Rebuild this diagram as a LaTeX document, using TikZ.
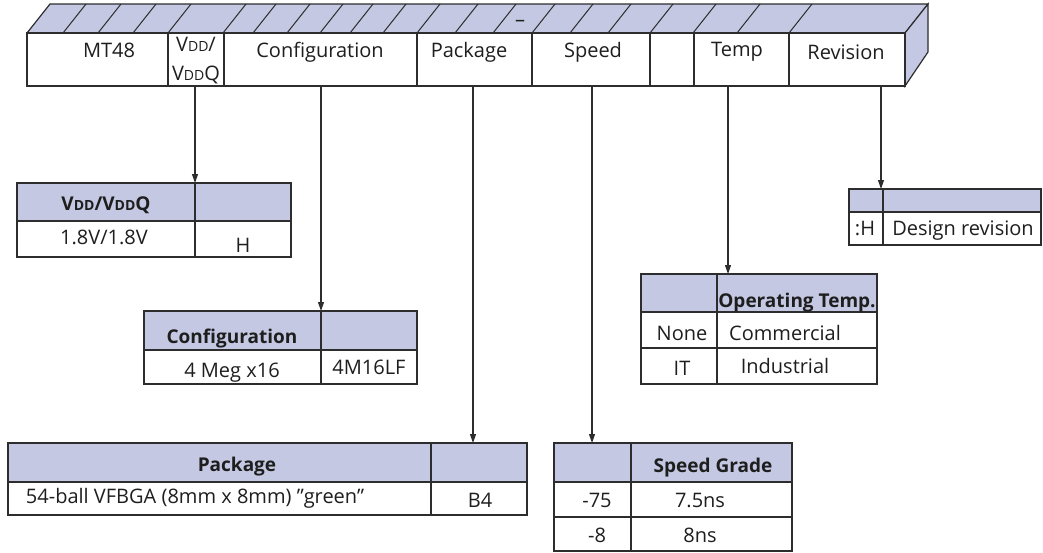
\documentclass[tikz,border=0pt]{standalone}
\usepackage{fontspec}
\setmainfont{Open Sans}
\usetikzlibrary{arrows.meta}
\definecolor{lav}{RGB}{196,200,226}
\definecolor{ln}{RGB}{45,45,45}
\definecolor{tx}{RGB}{30,30,30}
\newcommand{\sm}[1]{{\fontsize{14}{14}\selectfont #1}}
\begin{document}
\begin{tikzpicture}[x=1pt,y=-1pt,
  lbl/.style={font=\fontsize{20}{22}\selectfont, text=tx, inner sep=0pt, anchor=base},
  hdr/.style={font=\fontsize{19}{21}\selectfont\bfseries, text=tx, inner sep=0pt, anchor=base},
  edge/.style={draw=ln, line width=1.2pt},
  hatch/.style={draw=ln, line width=1pt},
  arr/.style={draw=ln, line width=1.1pt, -{Triangle[length=9pt,width=6pt]}},
  hfill/.style={fill=lav}
]
\useasboundingbox (0,0) rectangle (1043,552);
% ---- top bar ----
\fill[lav] (27,33) -- (50,4) -- (928,4) -- (905,33) -- cycle;
\foreach \b in {63,98,133,168,223,253,287,320,350,383,417,455,493,532,570,608,650,693,737,789}
  \draw[hatch] (\b,33) -- (\b+23,4);
\draw[edge,line join=miter] (27,33) -- (50,4) -- (928,4) -- (905,33) -- cycle;
\draw[edge,fill=lav,line join=miter] (905,33) -- (928,4) -- (928,52) -- (905,86) -- cycle;
\draw[edge,fill=white] (27,33) rectangle (905,86);
\foreach \d in {168,224,417,532,650,694,789}
  \draw[edge] (\d,33) -- (\d,86);
\node[lbl] (dash) at (520,26) {–};
\node[lbl] (fMT) at (109,57) {MT48};
\node[lbl] (fV1) at (196,51) {V\sm{DD}/};
\node[lbl] (fV2) at (196,80) {V\sm{DD}Q};
\node[lbl] (fCfg) at (320,57) {Configuration};
\node[lbl] (fPkg) at (469,57) {Package};
\node[lbl] (fSpd) at (593,57) {Speed};
\node[lbl] (fTmp) at (737,56) {Temp};
\node[lbl] (fRev) at (846,59) {Revision};
% connector start points
\coordinate (sV) at (195,86);
\coordinate (sC) at (321,86);
\coordinate (sP) at (473,86);
\coordinate (sS) at (592,86);
\coordinate (sT) at (728,86);
\coordinate (sR) at (881,86);
% ---- VDD table ----
\fill[lav] (17,183) rectangle (291,221);
\draw[edge] (17,183) rectangle (291,257);
\draw[edge] (17,221) -- (291,221);
\draw[edge] (195,183) -- (195,257);
\coordinate (tV) at (195,183);
\node[hdr] (vH) at (106,210) {V\sm{DD}/V\sm{DD}Q};
\node[lbl] (v1) at (104,244) {1.8V/1.8V};
\node[lbl] (v2) at (243,252) {H};
% ---- Configuration table ----
\fill[lav] (144,311) rectangle (417,350);
\draw[edge] (144,311) rectangle (417,384);
\draw[edge] (144,350) -- (417,350);
\draw[edge] (321,311) -- (321,384);
\coordinate (tC) at (321,311);
\node[hdr] (cH) at (232,343) {Configuration};
\node[lbl] (c1) at (232,377) {4 Meg x16};
\node[lbl] (c2) at (369,374) {4M16LF};
% ---- Package table ----
\fill[lav] (8,443) rectangle (527,482);
\draw[edge] (8,443) rectangle (527,515);
\draw[edge] (8,482) -- (527,482);
\draw[edge] (431,443) -- (431,515);
\coordinate (tP) at (473,443);
\node[hdr] (pH) at (237,471) {Package};
\node[lbl] (p1) at (195,503) {54-ball VFBGA (8mm x 8mm) ”green”};
\node[lbl] (p2) at (480,507) {B4};
% ---- Speed table ----
\fill[lav] (554,443) rectangle (792,482);
\draw[edge] (554,443) rectangle (792,551);
\draw[edge] (554,482) -- (792,482);
\draw[edge] (554,517) -- (792,517);
\draw[edge] (631,443) -- (631,551);
\coordinate (tS) at (592,443);
\node[hdr] (sH) at (713,472) {Speed Grade};
\node[lbl] (s1) at (597,507) {-75};
\node[lbl] (s2) at (700,507) {7.5ns};
\node[lbl] (s3) at (597,542) {-8};
\node[lbl] (s4) at (700,542) {8ns};
% ---- Temp table ----
\fill[lav] (641,274) rectangle (877,312);
\draw[edge] (641,274) rectangle (877,384);
\draw[edge] (641,312) -- (877,312);
\draw[edge] (641,348) -- (877,348);
\draw[edge] (717,274) -- (717,384);
\coordinate (tT) at (728,274);
\node[hdr] (tH) at (797,307) {Operating Temp.};
\node[lbl] (t1) at (682,340) {None};
\node[lbl] (t2) at (785,340) {Commercial};
\node[lbl] (t3) at (682,375) {IT};
\node[lbl] (t4) at (785,373) {Industrial};
% ---- Revision table ----
\fill[lav] (849,189) rectangle (1041,212);
\draw[edge] (849,189) rectangle (1041,245);
\draw[edge] (849,212) -- (1041,212);
\draw[edge] (883,189) -- (883,245);
\coordinate (tR) at (881,189);
\node[lbl] (r1) at (865,235) {:H};
\node[lbl] (r2) at (963,235) {Design revision};
% ---- connectors ----
\draw[arr] (sV) -- (tV);
\draw[arr] (sC) -- (tC);
\draw[arr] (sP) -- (tP);
\draw[arr] (sS) -- (tS);
\draw[arr] (sT) -- (tT);
\draw[arr] (sR) -- (tR);
\end{tikzpicture}
\end{document}
